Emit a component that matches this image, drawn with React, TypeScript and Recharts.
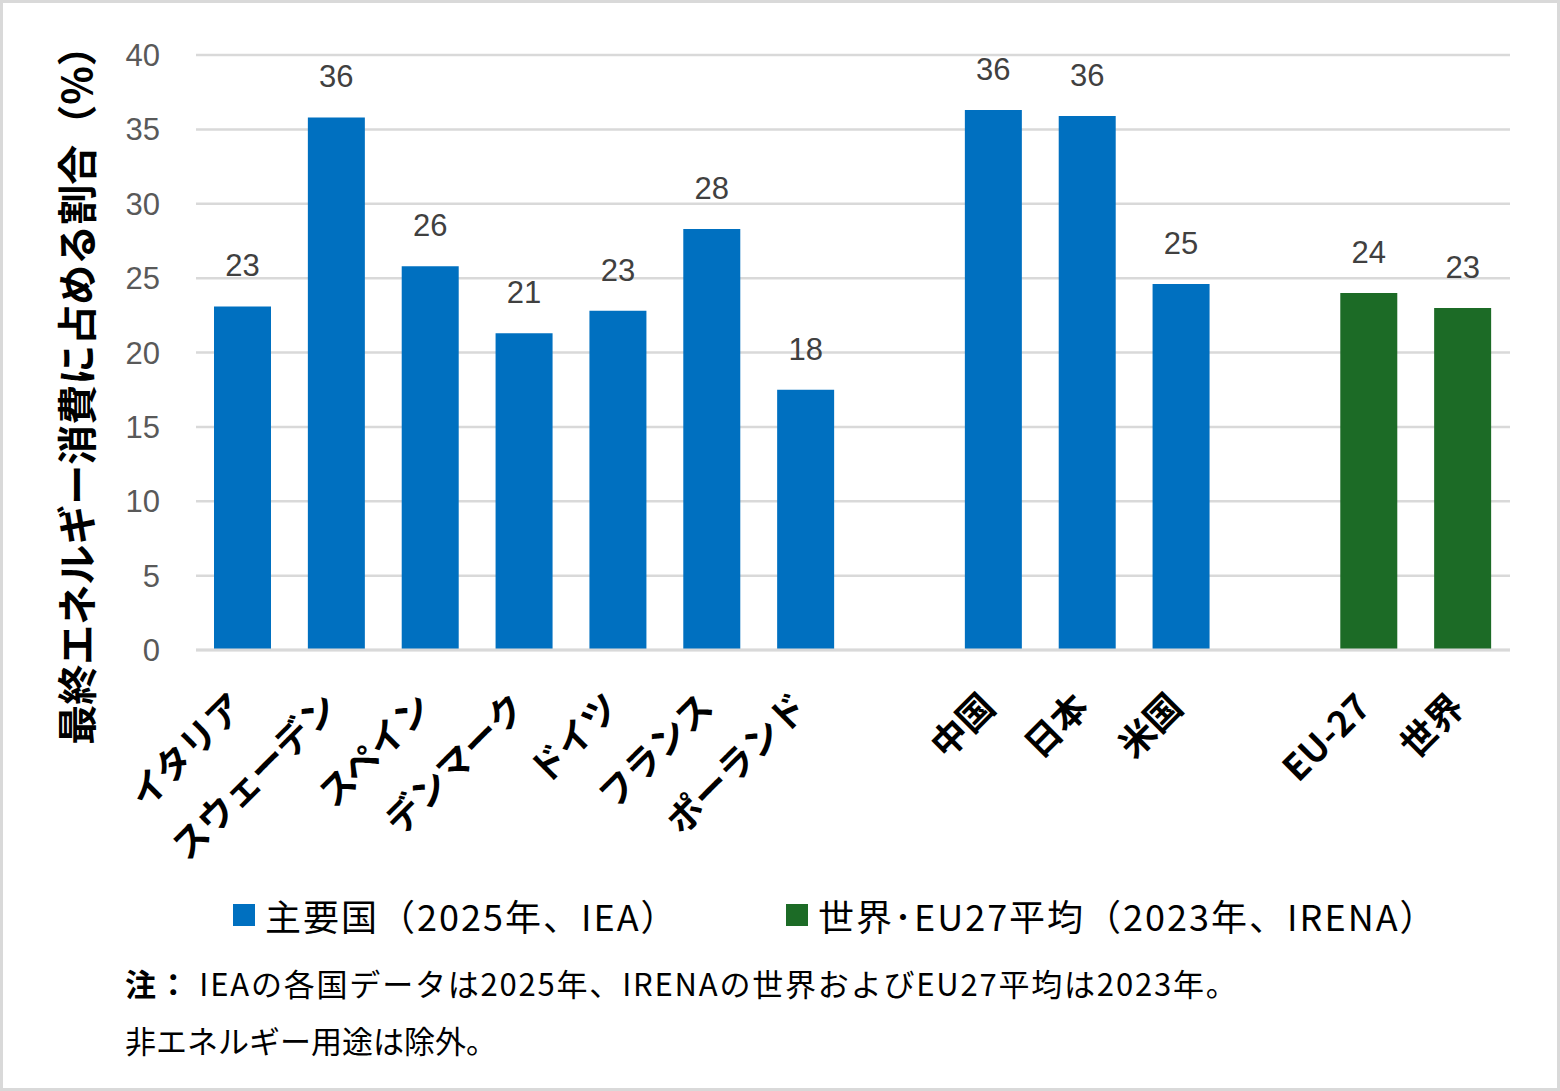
import { BarChart, Bar, XAxis, YAxis, CartesianGrid, LabelList, Legend } from "recharts";

// categories ("" = spacer slot between groups)
const categories = [
  "イタリア", "スウェーデン", "スペイン", "デンマーク", "ドイツ", "フランス", "ポーランド",
  "", "中国", "日本", "米国", "", "EU-27", "世界",
];
// 主要国（2025年、IEA）
const mainValues = [23.1, 35.8, 25.8, 21.3, 22.8, 28.3, 17.5, null, 36.3, 35.9, 24.6, null, null, null];
// 世界・EU27平均（2023年、IRENA）
const avgValues = [null, null, null, null, null, null, null, null, null, null, null, null, 24.0, 23.0];
const yTicks = [0, 5, 10, 15, 20, 25, 30, 35, 40];

const seriesNames = ["主要国（2025年、IEA）", "世界･EU27平均（2023年、IRENA）"];
const seriesColors = ["#0070C0", "#1C6B26"];
const legendLeft = [233, 786];

const yTitle = "最終エネルギー消費に占める割合（%）";
const noteLines = ["IEAの各国データは2025年、IRENAの世界およびEU27平均は2023年。", "非エネルギー用途は除外。"];

const data = categories.map((name, i) => ({ name, main: mainValues[i], avg: avgValues[i] }));

const JP = '"Noto Sans CJK JP", "Noto Sans", sans-serif';
const NUM = '"Liberation Sans", Arial, sans-serif';

function CategoryTick({ x, y, payload }: any) {
  const ax = x - 8;
  const ay = y + 48;
  return (
    <text
      x={ax}
      y={ay}
      transform={`rotate(-45 ${ax} ${ay})`}
      textAnchor="end"
      dominantBaseline="central"
      fontFamily={JP}
      fontSize={36}
      fontWeight="bold"
      fill="#000"
    >
      {payload.value}
    </text>
  );
}

function YTitle({ viewBox }: any) {
  const cx = viewBox.x + 75;
  const cy = viewBox.y + viewBox.height / 2 + 33;
  return (
    <text
      transform={`translate(${cx} ${cy}) rotate(-90)`}
      textAnchor="middle"
      dominantBaseline="central"
      fontFamily={JP}
      fontSize={40}
      fontWeight="bold"
      fill="#000"
    >
      {yTitle}
    </text>
  );
}

function LegendContent({ payload }: any) {
  const entries = seriesNames.map((n) => (payload || []).find((p: any) => p.value === n)).filter(Boolean);
  return (
    <div style={{ position: "relative", height: 50, fontFamily: JP, fontSize: 36, letterSpacing: 2, color: "#000" }}>
      {entries.map((entry: any, i: number) => (
        <div
          key={entry.value}
          style={{ position: "absolute", left: legendLeft[i], top: 0, display: "flex", alignItems: "center", whiteSpace: "nowrap" }}
        >
          <span style={{ display: "inline-block", width: 22, height: 22, background: entry.color, marginRight: 10 }} />
          <span>{entry.value}</span>
        </div>
      ))}
    </div>
  );
}

const fmt = (v: any) => (v == null ? "" : Math.round(Number(v)));

export default function App() {
  return (
    <div style={{ position: "absolute", left: 0, top: 0, width: 1560, height: 1091, background: "#fff" }}>
      <BarChart
        width={1560}
        height={1091}
        data={data}
        margin={{ top: 55, right: 50, left: 0, bottom: 0 }}
        barSize={57}
      >
        <CartesianGrid vertical={false} stroke="#d9d9d9" strokeWidth={2.5} />
        <XAxis
          dataKey="name"
          interval={0}
          height={441}
          tickLine={false}
          tickSize={0}
          tickMargin={0}
          axisLine={{ stroke: "#d9d9d9", strokeWidth: 3 }}
          tick={CategoryTick}
        />
        <YAxis
          domain={[0, 40]}
          ticks={yTicks}
          width={196}
          axisLine={false}
          tickLine={false}
          tickMargin={30}
          tick={{ fill: "#595959", fontSize: 31, fontFamily: NUM }}
          label={{ content: YTitle }}
        />
        <Legend
          layout="horizontal"
          verticalAlign="middle"
          align="center"
          wrapperStyle={{ top: 889, left: 0, width: 1560 }}
          content={LegendContent}
        />
        <Bar dataKey="main" stackId="s" name={seriesNames[0]} fill={seriesColors[0]} isAnimationActive={false}>
          <LabelList dataKey="main" position="top" offset={30} formatter={fmt} fill="#404040" fontSize={31} fontFamily={NUM} />
        </Bar>
        <Bar dataKey="avg" stackId="s" name={seriesNames[1]} fill={seriesColors[1]} isAnimationActive={false}>
          <LabelList dataKey="avg" position="top" offset={30} formatter={fmt} fill="#404040" fontSize={31} fontFamily={NUM} />
        </Bar>
      </BarChart>
      <div style={{ position: "absolute", left: 125, top: 962, fontFamily: JP, fontSize: 31, letterSpacing: 1.8, color: "#000", whiteSpace: "nowrap", lineHeight: "42px" }}>
        <span style={{ fontWeight: "bold" }}>注：</span> {noteLines[0]}
      </div>
      <div style={{ position: "absolute", left: 125, top: 1019, fontFamily: JP, fontSize: 31, color: "#000", whiteSpace: "nowrap", lineHeight: "42px" }}>
        {noteLines[1]}
      </div>
      <div
        style={{
          position: "absolute", left: 0, top: 0, width: 1560, height: 1091,
          border: "3px solid #d9d9d9", boxSizing: "border-box", pointerEvents: "none",
        }}
      />
    </div>
  );
}
